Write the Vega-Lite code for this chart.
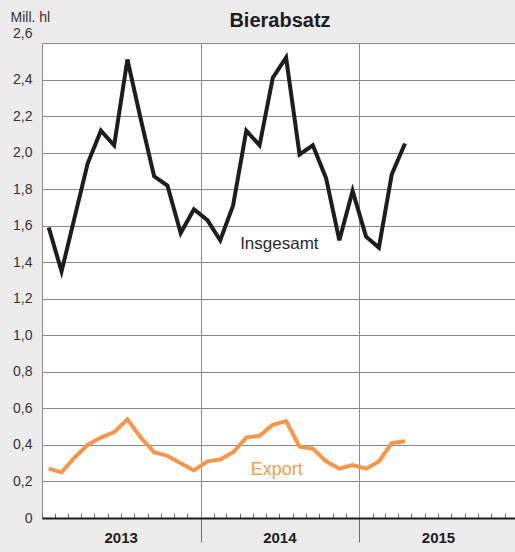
{
  "$schema": "https://vega.github.io/schema/vega-lite/v6.json",
  "width": 476,
  "height": 475,
  "autosize": {"type": "none"},
  "padding": {"left": 42, "top": 43, "right": 0, "bottom": 34},
  "background": "#ececec",
  "config": {"font": "Liberation Sans", "view": {"fill": "white", "stroke": null}},
  "title": {"text": "Bierabsatz", "fontSize": 20, "fontWeight": "bold", "color": "#1d1d1b", "baseline": "alphabetic", "offset": -37, "frame": "group"},
  "datasets": {
    "absatz": [
      {"monat": "2013-01", "serie": "Insgesamt", "wert": 1.59},
      {"monat": "2013-02", "serie": "Insgesamt", "wert": 1.35},
      {"monat": "2013-03", "serie": "Insgesamt", "wert": 1.64},
      {"monat": "2013-04", "serie": "Insgesamt", "wert": 1.94},
      {"monat": "2013-05", "serie": "Insgesamt", "wert": 2.12},
      {"monat": "2013-06", "serie": "Insgesamt", "wert": 2.04},
      {"monat": "2013-07", "serie": "Insgesamt", "wert": 2.51},
      {"monat": "2013-08", "serie": "Insgesamt", "wert": 2.18},
      {"monat": "2013-09", "serie": "Insgesamt", "wert": 1.87},
      {"monat": "2013-10", "serie": "Insgesamt", "wert": 1.82},
      {"monat": "2013-11", "serie": "Insgesamt", "wert": 1.56},
      {"monat": "2013-12", "serie": "Insgesamt", "wert": 1.69},
      {"monat": "2014-01", "serie": "Insgesamt", "wert": 1.63},
      {"monat": "2014-02", "serie": "Insgesamt", "wert": 1.52},
      {"monat": "2014-03", "serie": "Insgesamt", "wert": 1.71},
      {"monat": "2014-04", "serie": "Insgesamt", "wert": 2.12},
      {"monat": "2014-05", "serie": "Insgesamt", "wert": 2.04},
      {"monat": "2014-06", "serie": "Insgesamt", "wert": 2.41},
      {"monat": "2014-07", "serie": "Insgesamt", "wert": 2.52},
      {"monat": "2014-08", "serie": "Insgesamt", "wert": 1.99},
      {"monat": "2014-09", "serie": "Insgesamt", "wert": 2.04},
      {"monat": "2014-10", "serie": "Insgesamt", "wert": 1.86},
      {"monat": "2014-11", "serie": "Insgesamt", "wert": 1.52},
      {"monat": "2014-12", "serie": "Insgesamt", "wert": 1.79},
      {"monat": "2015-01", "serie": "Insgesamt", "wert": 1.54},
      {"monat": "2015-02", "serie": "Insgesamt", "wert": 1.48},
      {"monat": "2015-03", "serie": "Insgesamt", "wert": 1.88},
      {"monat": "2015-04", "serie": "Insgesamt", "wert": 2.05},
      {"monat": "2013-01", "serie": "Export", "wert": 0.27},
      {"monat": "2013-02", "serie": "Export", "wert": 0.25},
      {"monat": "2013-03", "serie": "Export", "wert": 0.33},
      {"monat": "2013-04", "serie": "Export", "wert": 0.40},
      {"monat": "2013-05", "serie": "Export", "wert": 0.44},
      {"monat": "2013-06", "serie": "Export", "wert": 0.47},
      {"monat": "2013-07", "serie": "Export", "wert": 0.54},
      {"monat": "2013-08", "serie": "Export", "wert": 0.44},
      {"monat": "2013-09", "serie": "Export", "wert": 0.36},
      {"monat": "2013-10", "serie": "Export", "wert": 0.34},
      {"monat": "2013-11", "serie": "Export", "wert": 0.30},
      {"monat": "2013-12", "serie": "Export", "wert": 0.26},
      {"monat": "2014-01", "serie": "Export", "wert": 0.31},
      {"monat": "2014-02", "serie": "Export", "wert": 0.32},
      {"monat": "2014-03", "serie": "Export", "wert": 0.36},
      {"monat": "2014-04", "serie": "Export", "wert": 0.44},
      {"monat": "2014-05", "serie": "Export", "wert": 0.45},
      {"monat": "2014-06", "serie": "Export", "wert": 0.51},
      {"monat": "2014-07", "serie": "Export", "wert": 0.53},
      {"monat": "2014-08", "serie": "Export", "wert": 0.39},
      {"monat": "2014-09", "serie": "Export", "wert": 0.38},
      {"monat": "2014-10", "serie": "Export", "wert": 0.31},
      {"monat": "2014-11", "serie": "Export", "wert": 0.27},
      {"monat": "2014-12", "serie": "Export", "wert": 0.29},
      {"monat": "2015-01", "serie": "Export", "wert": 0.27},
      {"monat": "2015-02", "serie": "Export", "wert": 0.31},
      {"monat": "2015-03", "serie": "Export", "wert": 0.41},
      {"monat": "2015-04", "serie": "Export", "wert": 0.42}
    ]
  },
  "layer": [
    {
      "data": {"name": "absatz"},
      "mark": {"type": "line", "strokeWidth": 4, "strokeJoin": "miter"},
      "encoding": {
        "x": {
          "field": "monat", "type": "temporal", "timeUnit": "utcyearmonth", "bandPosition": 0.5,
          "scale": {"domain": [{"year": 2013, "month": 1, "date": 1, "utc": true}, {"year": 2016, "month": 1, "date": 1, "utc": true}]},
          "axis": {
            "title": null,
            "tickCount": "month",
            "labelExpr": "utcmonth(datum.value) == 6 ? utcFormat(datum.value, '%Y') : ''",
            "labelFontSize": 15, "labelFontWeight": "bold", "labelColor": "#1d1d1b",
            "labelOverlap": false, "labelFlush": false, "labelBaseline": "alphabetic", "labelPadding": 29,
            "domainColor": "#1d1d1b", "domainWidth": 2,
            "tickColor": "#6e6e6e", "tickWidth": 1,
            "tickSize": {"condition": {"test": "utcmonth(datum.value) == 0 && utcyear(datum.value) > 2013 && utcyear(datum.value) < 2016", "value": 24}, "value": -5},
            "grid": true, "gridColor": "#8a8a8a", "gridWidth": 1,
            "gridOpacity": {"condition": {"test": "utcmonth(datum.value) == 0", "value": 1}, "value": 0}
          }
        },
        "y": {
          "field": "wert", "type": "quantitative",
          "scale": {"domain": [0, 2.6], "nice": false},
          "axis": {
            "title": "Mill. hl", "titleAngle": 0, "titleAlign": "left", "titleBaseline": "alphabetic",
            "titleX": -32, "titleY": -22, "titleFontSize": 14, "titleFontWeight": "normal", "titleColor": "#333333",
            "values": [0, 0.2, 0.4, 0.6, 0.8, 1.0, 1.2, 1.4, 1.6, 1.8, 2.0, 2.2, 2.4, 2.6],
            "tickCount": 20,
            "labelExpr": "datum.value == 0 ? '0' : replace(format(datum.value, '.1f'), '.', ',')",
            "labelFontSize": 14, "labelColor": "#333333", "labelPadding": 10, "labelFlush": false, "labelOverlap": false,
            "labelOffset": {"condition": {"test": "datum.value > 2.55", "value": -10}, "value": 0},
            "ticks": false, "domain": false,
            "grid": true, "gridColor": "#8a8a8a", "gridWidth": 1
          }
        },
        "color": {
          "field": "serie", "type": "nominal",
          "scale": {"domain": ["Insgesamt", "Export"], "range": ["#1d1d1b", "#f5964a"]},
          "legend": null
        }
      }
    },
    {
      "data": {"values": [{"serie": "Insgesamt"}]},
      "mark": {"type": "text", "fontSize": 17, "baseline": "alphabetic", "align": "center", "color": "#2a2a2a"},
      "encoding": {
        "x": {"datum": {"year": 2014, "month": 7, "date": 1, "utc": true}, "type": "temporal"},
        "y": {"datum": 1.47, "type": "quantitative"},
        "text": {"field": "serie"}
      }
    },
    {
      "data": {"values": [{"serie": "Export"}]},
      "mark": {"type": "text", "fontSize": 18, "baseline": "alphabetic", "align": "center", "color": "#f39b4f"},
      "encoding": {
        "x": {"datum": {"year": 2014, "month": 6, "date": 25, "utc": true}, "type": "temporal"},
        "y": {"datum": 0.235, "type": "quantitative"},
        "text": {"field": "serie"}
      }
    }
  ]
}
